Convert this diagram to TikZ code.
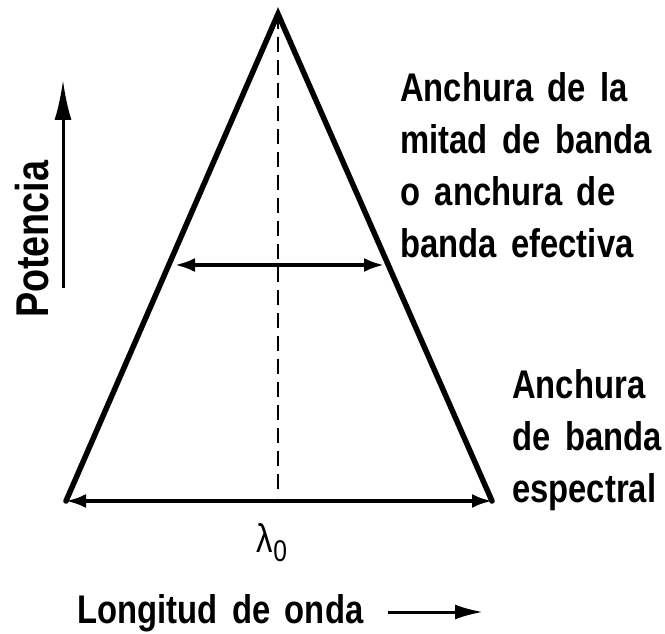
\documentclass[tikz,border=0pt]{standalone}
\usepackage{fontspec}
\setmainfont{Liberation Sans}[FakeStretch=0.82,WordSpace=1.6]
\usetikzlibrary{arrows.meta}

\begin{document}
\begin{tikzpicture}[x=1pt,y=-1pt,
    side/.style={line width=5.5pt,line cap=round},
    width/.style={line width=3.5pt,{Latex[length=20pt,width=14pt]}-{Latex[length=20pt,width=14pt]}},
    axis/.style={line width=3pt},
    lbl/.style={font=\bfseries\fontsize{40}{51.7}\selectfont,inner sep=0pt,align=left}]
  \useasboundingbox (0,0) rectangle (665,634);
  % triangle
  \coordinate (apex) at (278,14);
  \coordinate (bl) at (66,501);
  \coordinate (br) at (492,501);
  \coordinate (foot) at (278,497);
  \draw[side] (bl) -- (apex) -- (br);
  \draw[line width=2.8pt,dash pattern=on 15pt off 8pt] (apex) -- (foot);
  % band widths
  \coordinate (ml) at (175,265);
  \coordinate (mr) at (384,265);
  \draw[width] (ml) -- (mr);
  \draw[width] (bl) -- (br);
  \node[lbl,anchor=base west] (half) at (400,257)
    {Anchura de la\\mitad de banda\\o anchura de\\banda efectiva};
  \node[lbl,anchor=base west] (spec) at (512,502)
    {Anchura\\de banda\\espectral};
  \node[inner sep=0pt,anchor=base] (lam) at (272,552)
    {\fontsize{40}{40}\selectfont λ\raisebox{-9pt}{\fontsize{30}{30}\selectfont 0}};
  % axes
  \node[lbl,anchor=base west] (xlab) at (77,623) {Longitud de onda};
  \coordinate (xtail) at (388,612);
  \coordinate (xtip) at (483,612);
  \draw[axis,-{Latex[length=28pt,width=15pt]}] (xtail) -- (xtip);
  \node[lbl,font=\bfseries\fontsize{46}{50}\selectfont,rotate=90,anchor=base west] (ylab) at (48,318) {Potencia};
  \coordinate (ytail) at (63,288);
  \coordinate (ytip) at (63,80);
  \draw[axis,-{Latex[length=40pt,width=17pt]}] (ytail) -- (ytip);
\end{tikzpicture}
\end{document}
